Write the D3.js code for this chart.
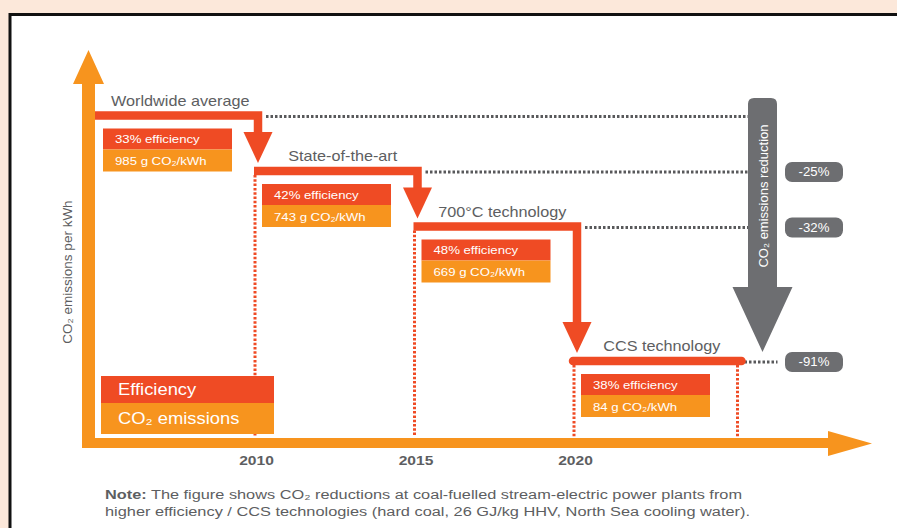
<!DOCTYPE html>
<html><head><meta charset="utf-8">
<script src="https://cdn.jsdelivr.net/npm/d3@7"></script>
<style>html,body{margin:0;padding:0;background:#fce8da;overflow:hidden}svg{display:block}</style>
</head><body><svg id="c" width="897" height="528"></svg>
<script>
// ---- data ----
const stages = ["Worldwide average", "State-of-the-art", "700°C technology", "CCS technology"];
const efficiency = [33, 42, 48, 38];            // %
const emissions = [985, 743, 669, 84];          // g CO2/kWh
const reductions = [null, -25, -32, -91];       // % vs worldwide average
const startYears = [2005, 2010, 2015, 2020];
const endYears = [2010, 2015, 2020, 2025];
const yearTicks = [2010, 2015, 2020];
const legendLabels = ["Efficiency", "CO₂ emissions"];
const yAxisTitle = "CO₂ emissions per kWh";
const reductionTitle = "CO₂ emissions reduction";
const noteBold = "Note:";
const noteLines = [" The figure shows CO₂ reductions at coal-fuelled stream-electric power plants from",
  "higher efficiency / CCS technologies (hard coal, 26 GJ/kg HHV, North Sea cooling water)."];

// ---- style ----
const RED = "#ef4b24", ORANGE = "#f7941e", GRAY = "#6d6e71", TXT = "#5d5e61";
const FONT = "'Liberation Sans', Arial, Helvetica, sans-serif";

const svg = d3.select("#c").attr("font-family", FONT);
svg.append("rect").attr("width", 897).attr("height", 528).attr("fill", "#fce8da");
svg.append("rect").attr("x", 10).attr("y", 14.5).attr("width", 900).attr("height", 530)
  .attr("fill", "#fff").attr("stroke", "#111").attr("stroke-width", 3);

// ---- scales ----
const x = d3.scaleLinear().domain([2010, 2020]).range([256, 575]);
const y = d3.scaleLinear().domain([0, 2, 3]).range([115.5, 226.5, 361]); // schematic stage levels
const axisX = 88.5, axisY = 443;

function htext(g, px, py, str, o) {
  return g.append("text")
    .attr("transform", `translate(${px},${py}) scale(${o.sx || 1},1)`)
    .attr("font-size", o.size).attr("fill", o.fill || TXT)
    .attr("font-weight", o.weight || "normal")
    .attr("text-anchor", o.anchor || "start")
    .text(str);
}

const g = svg.append("g");

// red dotted verticals
const dotted = g.append("g").attr("stroke", RED).attr("stroke-width", 3).attr("stroke-dasharray", "2.5,1.8");
stages.forEach((s, i) => {
  if (i > 0) dotted.append("line").attr("x1", x(startYears[i]) - 1).attr("x2", x(startYears[i]) - 1)
    .attr("y1", y(i) + 4).attr("y2", axisY - 6);
});
dotted.append("line").attr("x1", x(endYears[3]) + 3).attr("x2", x(endYears[3]) + 3)
  .attr("y1", y(3) + 4).attr("y2", axisY - 6);

// gray dotted horizontals
const grayArrowX = 762.5;
const gdot = g.append("g").attr("stroke", "#58595b").attr("stroke-width", 3).attr("stroke-dasharray", "2.5,2");
stages.forEach((s, i) => {
  const x1 = x(endYears[i]) + 10;
  const x2 = i < 3 ? grayArrowX - 14 : grayArrowX + 15;
  gdot.append("line").attr("x1", x1).attr("x2", x2).attr("y1", y(i) + 1).attr("y2", y(i) + 1);
});

// step lines + arrows
const HW = 14.5, HH = 31;
stages.forEach((s, i) => {
  const xs = i === 0 ? axisX : x(startYears[i]) - 2;
  const xe = x(endYears[i]) + 2;
  if (i < 3) {
    const tip = y(i + 1) - 8;
    g.append("path").attr("d", `M${xs},${y(i)}H${xe}V${tip - HH + 1}`)
      .attr("fill", "none").attr("stroke", RED).attr("stroke-width", 8.5).attr("stroke-linejoin", "miter");
    g.append("path").attr("d", `M${xe - HW},${tip - HH}H${xe + HW}L${xe},${tip}Z`).attr("fill", RED);
  } else {
    g.append("line").attr("x1", xs).attr("x2", xe + 5).attr("y1", y(i)).attr("y2", y(i))
      .attr("stroke", RED).attr("stroke-width", 8.5).attr("stroke-linecap", "round");
  }
  // stage label
  htext(g, (xs + xe) / 2 + 7, y(i) - 10, s, { size: 15, sx: 1.08, anchor: "middle" });
  // value boxes
  const bx = (i === 0 ? axisX + 6.5 : xs) + 8, by = y(i) + 13, bw = 129;
  g.append("rect").attr("x", bx).attr("y", by).attr("width", bw).attr("height", 21).attr("fill", RED);
  g.append("rect").attr("x", bx).attr("y", by + 21).attr("width", bw).attr("height", 22).attr("fill", ORANGE);
  htext(g, bx + 12, by + 14.5, `${efficiency[i]}% efficiency`, { size: 11, sx: 1.2, fill: "#fff" });
  htext(g, bx + 12, by + 36.5, `${emissions[i]} g CO₂/kWh`, { size: 11, sx: 1.2, fill: "#fff" });
});

// gray reduction arrow
const gTop = 98, sHalf = 14.5, hHalf = 30, tipY = y(3) - 9, headTop = 287, r = 6;
g.append("path").attr("fill", GRAY).attr("d",
  `M${grayArrowX - sHalf},${gTop + r}Q${grayArrowX - sHalf},${gTop} ${grayArrowX - sHalf + r},${gTop}` +
  `H${grayArrowX + sHalf - r}Q${grayArrowX + sHalf},${gTop} ${grayArrowX + sHalf},${gTop + r}` +
  `V${headTop}H${grayArrowX + hHalf}L${grayArrowX},${tipY}L${grayArrowX - hHalf},${headTop}H${grayArrowX - sHalf}Z`);
g.append("text").attr("transform", `translate(${grayArrowX + 1},196) rotate(-90)`)
  .attr("text-anchor", "middle").attr("dominant-baseline", "central")
  .attr("font-size", 13).attr("fill", "#fff").text(reductionTitle);

// badges
stages.forEach((s, i) => {
  if (reductions[i] === null) return;
  const cy = y(i) + 1;
  g.append("rect").attr("x", 785).attr("y", cy - 10).attr("width", 58).attr("height", 20)
    .attr("rx", 7).attr("fill", GRAY);
  htext(g, 814, cy + 4.3, `${reductions[i]}%`, { size: 12, sx: 1.1, fill: "#fff", anchor: "middle" });
});

// axes (orange arrows)
g.append("path").attr("fill", ORANGE).attr("d",
  `M${axisX - 6.5},${axisY + 5}V84H73L${axisX},50L104,84H${axisX + 6.5}V${axisY - 5}H828V431L872,${axisY + 0.5}L828,456V${axisY + 5}Z`);

// legend
const lg = g.append("g");
lg.append("rect").attr("x", 101).attr("y", 376).attr("width", 173).attr("height", 27).attr("fill", RED);
lg.append("rect").attr("x", 101).attr("y", 403).attr("width", 173).attr("height", 31).attr("fill", ORANGE);
htext(lg, 118, 395, legendLabels[0], { size: 17, sx: 1.08, fill: "#fff" });
htext(lg, 118, 424, legendLabels[1], { size: 17, sx: 1.08, fill: "#fff" });

// x tick labels via d3 axis
const ax = g.append("g").attr("transform", `translate(0,${axisY + 5})`)
  .call(d3.axisBottom(x).tickValues(yearTicks).tickSize(0).tickPadding(8).tickFormat(d3.format("d")));
ax.select(".domain").remove();
ax.selectAll("text").attr("font-family", FONT).attr("font-size", 13).attr("font-weight", "bold")
  .attr("fill", TXT).attr("transform", "scale(1.2,1)");

// y axis title
g.append("text").attr("transform", `translate(67,272) rotate(-90)`).attr("text-anchor", "middle")
  .attr("dominant-baseline", "central").attr("font-size", 13.5).attr("fill", TXT).text(yAxisTitle);

// note
const n1 = g.append("text").attr("x", 105).attr("y", 499).attr("font-size", 12.5).attr("fill", TXT)
  .attr("textLength", 637).attr("lengthAdjust", "spacingAndGlyphs");
n1.append("tspan").attr("font-weight", "bold").text(noteBold);
n1.append("tspan").text(noteLines[0]);
g.append("text").attr("x", 105).attr("y", 516).attr("font-size", 12.5).attr("fill", TXT)
  .attr("textLength", 645).attr("lengthAdjust", "spacingAndGlyphs").text(noteLines[1]);
</script></body></html>
